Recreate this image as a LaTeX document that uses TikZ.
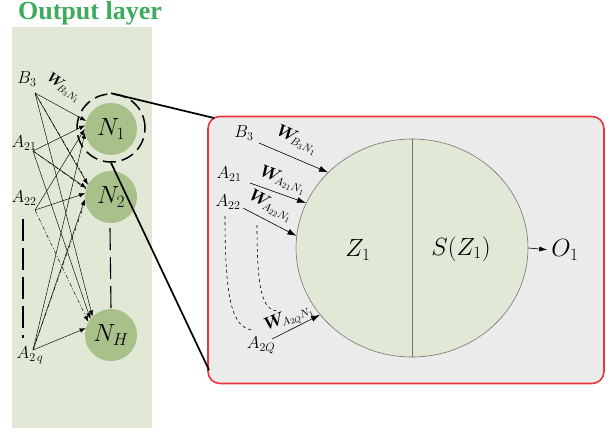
\documentclass[tikz,border=0pt]{standalone}
\usepackage{bm}
\usepackage{fontspec}
\setmainfont{Liberation Serif}
\usetikzlibrary{arrows.meta,shapes.geometric}
\definecolor{panelgreen}{HTML}{E1E8D5}
\definecolor{nodegreen}{HTML}{A8C08A}
\definecolor{titlegreen}{HTML}{3DAA5C}
\definecolor{boxgray}{HTML}{EBEBEB}
\definecolor{boxred}{HTML}{E8363A}
\definecolor{cellgreen}{HTML}{E1E8D6}
\begin{document}
\begin{tikzpicture}[x=1pt,y=-1pt,
  neuronnode/.style={circle, fill=nodegreen, minimum size=52pt, inner sep=0pt, font=\fontsize{25}{25}\selectfont},
  inlab/.style={inner sep=0pt, font=\fontsize{18.5}{18.5}\selectfont},
  biglab/.style={inner sep=0pt, font=\fontsize{24}{24}\selectfont},
  wlabel/.style={inner sep=0pt, font=\fontsize{16}{16}\selectfont},
  thinarrow/.style={-{Latex[length=6pt,width=4.5pt]}, line width=0.45pt},
  dashdotline/.style={line width=0.45pt, dash pattern=on 4pt off 2pt on 1pt off 2pt},
  rarrow/.style={-{Latex[length=9pt,width=6pt]}, line width=0.6pt},
  bigdash/.style={line width=1.5pt, dash pattern=on 13pt off 6pt},
  middash/.style={line width=1.1pt, dash pattern=on 22pt off 7pt},
  linkline/.style={line width=1.7pt}]
\useasboundingbox (0,0) rectangle (612,432);

% ---------- left panel ----------
\fill[panelgreen] (12,27) rectangle (152,428);
\node[inner sep=0pt, text=titlegreen, font=\fontsize{26}{26}\selectfont\bfseries] (title) at (90,13) {Output layer};

\node[neuronnode] (N1) at (111,129) {$N_1$};
\node[neuronnode] (N2) at (111,197) {$N_2$};
\node[neuronnode] (NH) at (111,335) {$N_H$};
\node[circle, draw, bigdash, minimum size=68pt, inner sep=0pt] (focus) at (111,128) {};

\coordinate (sB) at (35,93);
\coordinate (s21) at (33,151);
\coordinate (s22) at (35,210);
\coordinate (sq) at (33,350);

\node[inlab] (lB) at (27,79) {$B_3$};
\node[inlab] (l21) at (24,143) {$A_{21}$};
\node[inlab] (l22) at (24,198) {$A_{22}$};
\node[inlab] (lq) at (30,355) {$A_{2\,q}$};

\draw[thinarrow] (sB) -- (N1.162);
\draw[dashdotline] (sB) -- (N2.150);
\draw[thinarrow] (sB) -- (N2.152);
\draw[thinarrow] (sB) -- (NH.135);
\draw[thinarrow] (s21) -- (N1.172);
\draw[dashdotline] (s21) -- (N2.162);
\draw[thinarrow] (s21) -- (N2.160);
\draw[thinarrow] (s21) -- (NH.142);
\draw[thinarrow] (s22) -- (N1.180);
\draw[thinarrow] (s22) -- (N2.172);
\draw[thinarrow, dash pattern=on 4pt off 2pt on 1pt off 2pt] (s22) -- (NH.150);
\draw[thinarrow] (sq) -- (N1.188);
\draw[thinarrow] (sq) -- (N2.185);
\draw[thinarrow] (sq) -- (NH.165);
\draw[dashdotline] (sq) -- (N2.190);

\node[inner sep=0pt, rotate=-35, font=\fontsize{14}{14}\selectfont] (wl) at (64,88) {$\bm{W}_{\!B_3N_1}$};

\draw[middash] (23,219) -- (23,338);
\coordinate (d1) at (110,228);
\draw[middash] (d1) -- (NH.north);

% ---------- right panel ----------
\node[draw=boxred, fill=boxgray, rounded corners=12pt, line width=1.6pt, minimum width=396pt, minimum height=267pt, inner sep=0pt] (box) at (406,250) {};
\coordinate (c1) at (214,118);
\coordinate (c2) at (209,370);
\draw[linkline] (focus.north) -- (c1);
\draw[linkline] (focus.south) -- (c2);

\node[ellipse, draw=black!55, fill=cellgreen, minimum width=232pt, minimum height=218pt, inner sep=0pt, line width=0.6pt] (cell) at (412,248) {};
\draw[black!55, line width=0.9pt] (cell.north) -- (cell.south);

\node[biglab] (z) at (358,250) {$Z_1$};
\node[biglab] (s) at (461,249) {$S(Z_1)$};
\node[biglab] (o) at (565,250) {$O_1$};
\draw[-{Latex[length=8pt,width=5pt]}, line width=0.6pt, shorten >=4pt] (cell.east) -- (o.west);

\node[inlab] (rB) at (244,133) {$B_3$};
\node[inlab] (r21) at (229,174) {$A_{21}$};
\node[inlab] (r22) at (228,202) {$A_{22}$};
\node[inlab] (rQ) at (261,345) {$A_{2Q}$};

\coordinate (tB) at (259,143);
\coordinate (t21) at (250,183);
\coordinate (t22) at (243,208);
\coordinate (tQ) at (272,339);

\draw[rarrow] (tB) -- (cell.138.2);
\draw[rarrow] (t21) -- (cell.157.5);
\draw[rarrow] (t22) -- (cell.174.5);
\draw[rarrow] (tQ) -- (cell.216.1);

\node[wlabel, rotate=-24] (w1) at (297,140) {$\bm{W}_{\!B_3N_1}$};
\node[wlabel, rotate=-20] (w2) at (283,180) {$\bm{W}_{\!A_{21}N_1}$};
\node[wlabel, rotate=-28] (w3) at (271,206) {$\bm{W}_{\!A_{22}N_1}$};
\node[wlabel, rotate=22] (w4) at (289,318) {$\bm{W}_{\!A_{2Q}N_1}$};

\draw[line width=0.6pt, dashed] (225,216) .. controls (225,300) and (232,327) .. (252,330);
\draw[line width=0.6pt, dashed] (257,225) .. controls (257,290) and (262,309) .. (277,311);
\end{tikzpicture}
\end{document}
